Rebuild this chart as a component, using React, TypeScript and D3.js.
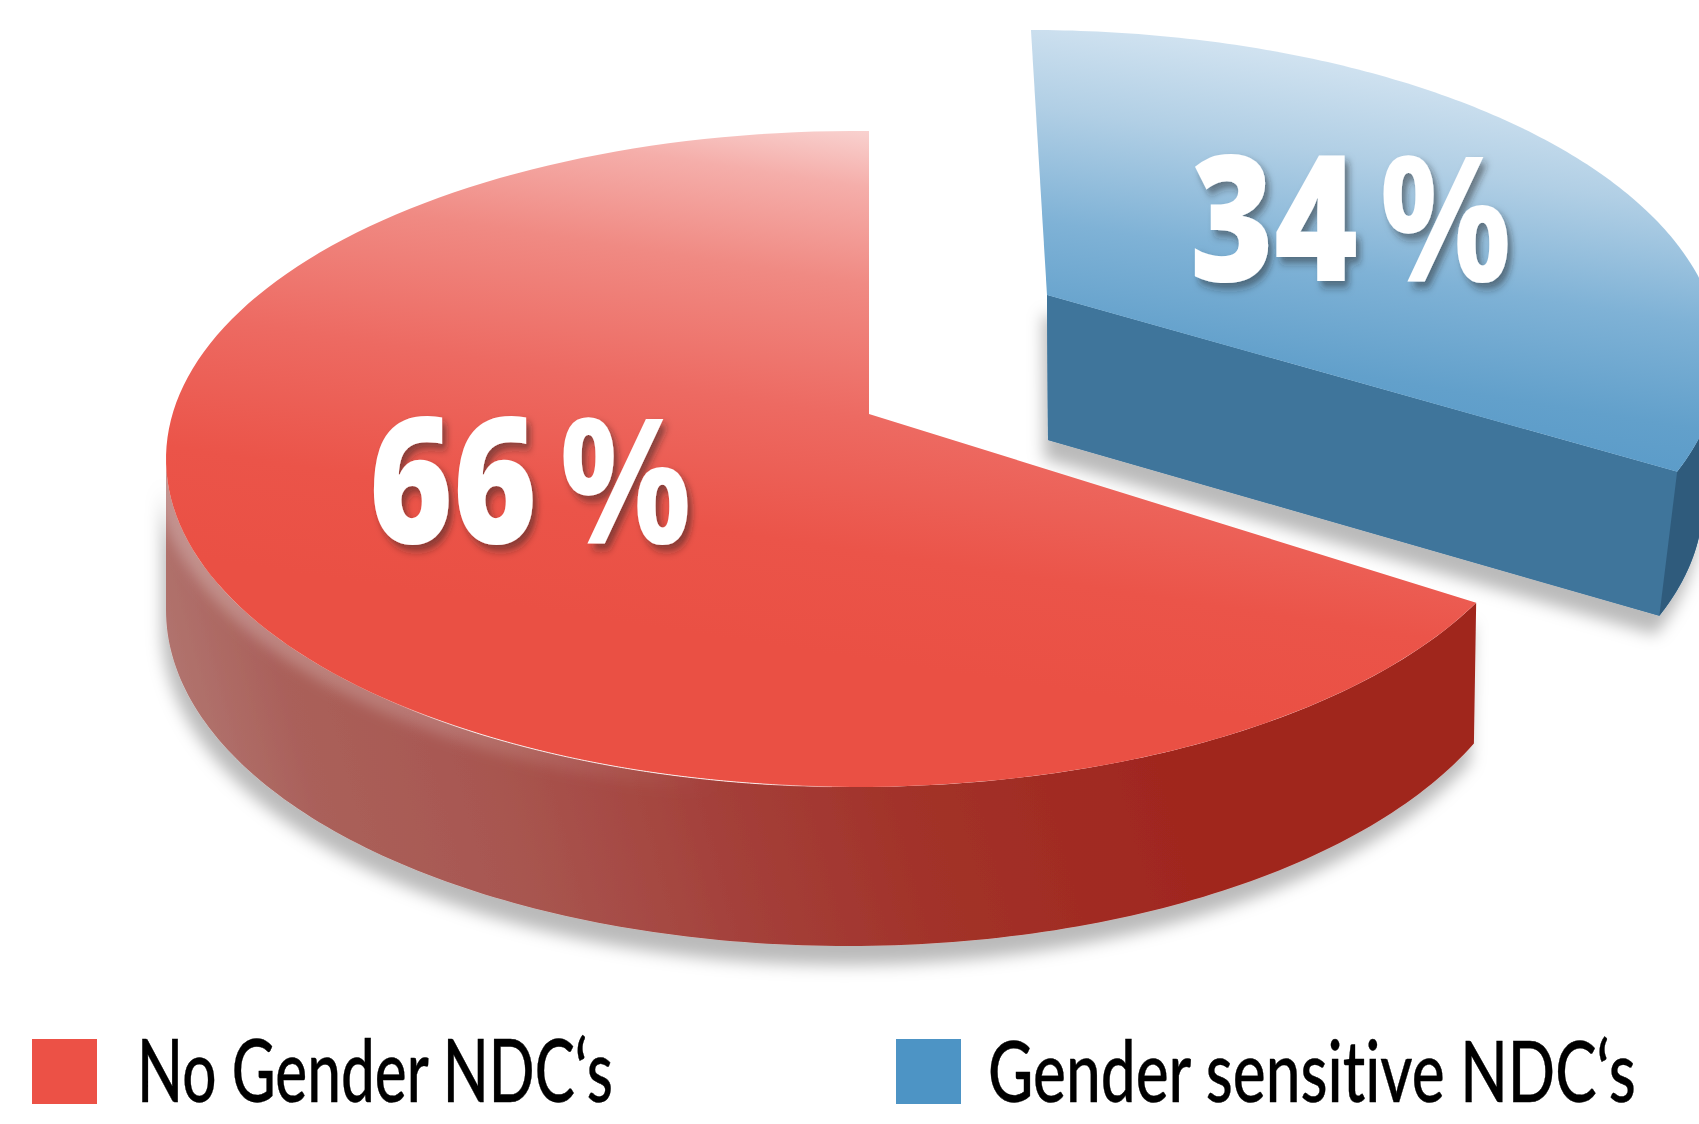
import React, { useEffect, useRef } from 'react'
import * as d3 from 'd3'

const categories = ['No Gender NDC‘s', 'Gender sensitive NDC‘s']
const shares = [66, 34]
const colors = ['#ec5146', '#4d94c5']

const deg = Math.PI / 180
const W = 1699, H = 1124

// one ellipse for the top face, one for the bottom of the rim
const redTop = { cx: 856, cy: 459, rx: 690, ry: 328 }
const redBottom = { cx: 848, cy: 610, rx: 682, ry: 336 }
const redApex: [number, number] = [869, 414]
const blueTop = { cx: 1030, cy: 358, rx: 690, ry: 328 }
const blueBottom = { cx: 1000, cy: 502, rx: 703, ry: 328 }
const blueApex: [number, number] = [1047, 295]
const blueApexLow: [number, number] = [1048, 440]

const pt = (e, a): [number, number] => [e.cx + e.rx * Math.sin(a), e.cy - e.ry * Math.cos(a)]
const arcPts = (e, a0, a1) => {
  const n = 160
  return d3.range(n + 1).map(i => pt(e, a0 + (a1 - a0) * i / n))
}
const line = d3.line()

// squeeze a text to a given width, the installed fonts are wider than the original one
const fitText = (sel, x, y, len) => {
  const natural = sel.node().getComputedTextLength()
  sel.attr('transform', `translate(${x},${y}) scale(${len / natural},1)`)
}

export default function App() {
  const svgRef = useRef(null)

  useEffect(() => {
    const svg = d3.select(svgRef.current)
    svg.selectAll('*').remove()

    const total = d3.sum(shares)
    const pie = d3.pie().sort(null).startAngle(-2 * Math.PI * shares[0] / total).endAngle(2 * Math.PI * shares[1] / total)
    const [redArc, blueArc] = pie(shares)

    // the picture's perspective moves the cuts a little away from their true angles
    const redView = d3.scaleLinear().domain([redArc.startAngle, redArc.endAngle]).range([-244 * deg, 1.08 * deg])
    const blueView = d3.scaleLinear().domain([blueArc.startAngle, blueArc.endAngle]).range([0.08 * deg, 110.3 * deg])
    const r0 = redView(redArc.startAngle), r1 = redView(redArc.endAngle)
    const r0Low = -246.6 * deg
    const b0 = blueView(blueArc.startAngle), b1 = blueView(blueArc.endAngle)

    const defs = svg.append('defs')
    const grad = (id, p, stops) => {
      const g = defs.append('linearGradient').attr('id', id).attr('gradientUnits', 'userSpaceOnUse')
        .attr('x1', p[0]).attr('y1', p[1]).attr('x2', p[2]).attr('y2', p[3])
      stops.forEach(s => g.append('stop').attr('offset', s[0]).attr('stop-color', s[1]).attr('stop-opacity', s[2] ?? 1))
    }
    grad('redFace', [880, 125, 800, 650], [[0, '#f9d6d4'], [0.12, '#f5aeaa'], [0.3, '#f08a83'], [0.55, '#ed6a62'], [0.8, '#eb5449'], [1, '#ea5044']])
    grad('blueFace', [1100, 25, 1030, 470], [[0, '#d0e2f0'], [0.2, '#b1cfe5'], [0.45, '#7fb2d6'], [0.68, '#62a0cb'], [1, '#4f94c5']])
    grad('redRim', [200, 900, 1150, 640], [[0, '#b37a75'], [0.14, '#aa605a'], [0.32, '#a85650'], [0.53, '#a4403a'], [0.72, '#a23229'], [1, '#a0261e']])
    grad('rimGlow', [166, 0, 720, 0], [[0, '#fff', 0.28], [0.5, '#fff', 0.18], [1, '#fff', 0]])
    grad('edgeLine', [380, 0, 850, 0], [[0, '#fff', 0], [0.2, '#fff', 0.85], [0.8, '#fff', 0.85], [1, '#fff', 0]])

    const shadow = defs.append('filter').attr('id', 'rimShadow').attr('x', '-10%').attr('y', '-10%').attr('width', '120%').attr('height', '130%')
    shadow.append('feDropShadow').attr('dx', -4).attr('dy', 19).attr('stdDeviation', 8).attr('flood-color', '#000').attr('flood-opacity', 0.27)
    const textShadow = defs.append('filter').attr('id', 'textShadow').attr('x', '-10%').attr('y', '-10%').attr('width', '125%').attr('height', '130%')
    textShadow.append('feDropShadow').attr('dx', 5).attr('dy', 6).attr('stdDeviation', 4).attr('flood-color', '#222').attr('flood-opacity', 0.5)
    defs.append('filter').attr('id', 'soft').append('feGaussianBlur').attr('stdDeviation', 7)

    // blue slice goes first, its shadow runs under the red one
    const blue = svg.append('g')
    const blueLow = pt(blueBottom, b1)
    const blueHigh = pt(blueTop, b1)
    const blueSolid = [blueApex, blueHigh, ...arcPts(blueTop, b1, 92 * deg), ...arcPts(blueBottom, 92 * deg, b1), blueApexLow]
    blue.append('path').attr('d', line(blueSolid) + 'Z').attr('fill', '#3f759b').attr('filter', 'url(#rimShadow)')
    blue.append('path').attr('d', line([blueApex, blueHigh, blueLow, blueApexLow]) + 'Z').attr('fill', '#3f759b')
    blue.append('path').attr('d', line([...arcPts(blueTop, b1, 92 * deg), ...arcPts(blueBottom, 92 * deg, b1)]) + 'Z').attr('fill', '#2f5b7c')
    blue.append('path').attr('d', line([blueApex, ...arcPts(blueTop, b0, b1)]) + 'Z').attr('fill', 'url(#blueFace)')

    // red slice
    const red = svg.append('g')
    const rimPts = [...arcPts(redTop, r0, -90 * deg), ...arcPts(redBottom, -90 * deg, r0Low)]
    const rimD = line(rimPts) + 'Z'
    defs.append('clipPath').attr('id', 'rimClip').append('path').attr('d', rimD)
    red.append('path').attr('d', rimD).attr('fill', 'url(#redRim)').attr('filter', 'url(#rimShadow)')
    const glow = red.append('g').attr('clip-path', 'url(#rimClip)')
    glow.append('path').attr('d', line(arcPts(redTop, -88 * deg, -172 * deg)))
      .attr('fill', 'none').attr('stroke', 'url(#rimGlow)').attr('stroke-width', 26).attr('filter', 'url(#soft)')
    red.append('path').attr('d', line([redApex, ...arcPts(redTop, r0, r1)]) + 'Z').attr('fill', 'url(#redFace)')
    red.append('path').attr('d', line(arcPts(redTop, -134 * deg, -178 * deg)))
      .attr('fill', 'none').attr('stroke', 'url(#edgeLine)').attr('stroke-width', 1)

    // value labels: digits and percent sign are fitted on their own
    const labels = [
      { value: shares[0], x: 369, y: 543, pctX: 559 },
      { value: shares[1], x: 1190, y: 281, pctX: 1379 },
    ]
    const lab = svg.append('g')
    labels.forEach(d => {
      const num = lab.append('text')
        .attr('font-family', '"Open Sans", sans-serif').attr('font-weight', 800).attr('font-size', 175)
        .attr('fill', '#fff').attr('filter', 'url(#textShadow)').text(d.value)
      fitText(num, d.x, d.y, 168)
      const pct = lab.append('text')
        .attr('font-family', '"Open Sans", sans-serif').attr('font-weight', 700).attr('font-size', 175)
        .attr('fill', '#fff').attr('filter', 'url(#textShadow)').text('%')
      fitText(pct, d.pctX, d.y, 133)
    })

    // legend
    const legend = [
      { sw: 32, tx: 137, len: 476 },
      { sw: 896, tx: 988, len: 648 },
    ]
    const lg = svg.append('g')
    categories.forEach((c, i) => {
      lg.append('rect').attr('x', legend[i].sw).attr('y', 1039).attr('width', 65).attr('height', 65).attr('fill', colors[i])
      const t = lg.append('text')
        .attr('font-family', 'Lato, sans-serif').attr('font-weight', 500).attr('font-size', 86).attr('fill', '#000')
        .attr('stroke', '#000').attr('stroke-width', 0.4)
        .style('font-variant-ligatures', 'none')
        .text(c)
      fitText(t, legend[i].tx, 1102, legend[i].len)
    })
  }, [])

  return (
    <svg ref={svgRef} width={W} height={H} viewBox={`0 0 ${W} ${H}`}
      style={{ position: 'fixed', left: 0, top: 0, display: 'block', background: '#fff' }} />
  )
}
